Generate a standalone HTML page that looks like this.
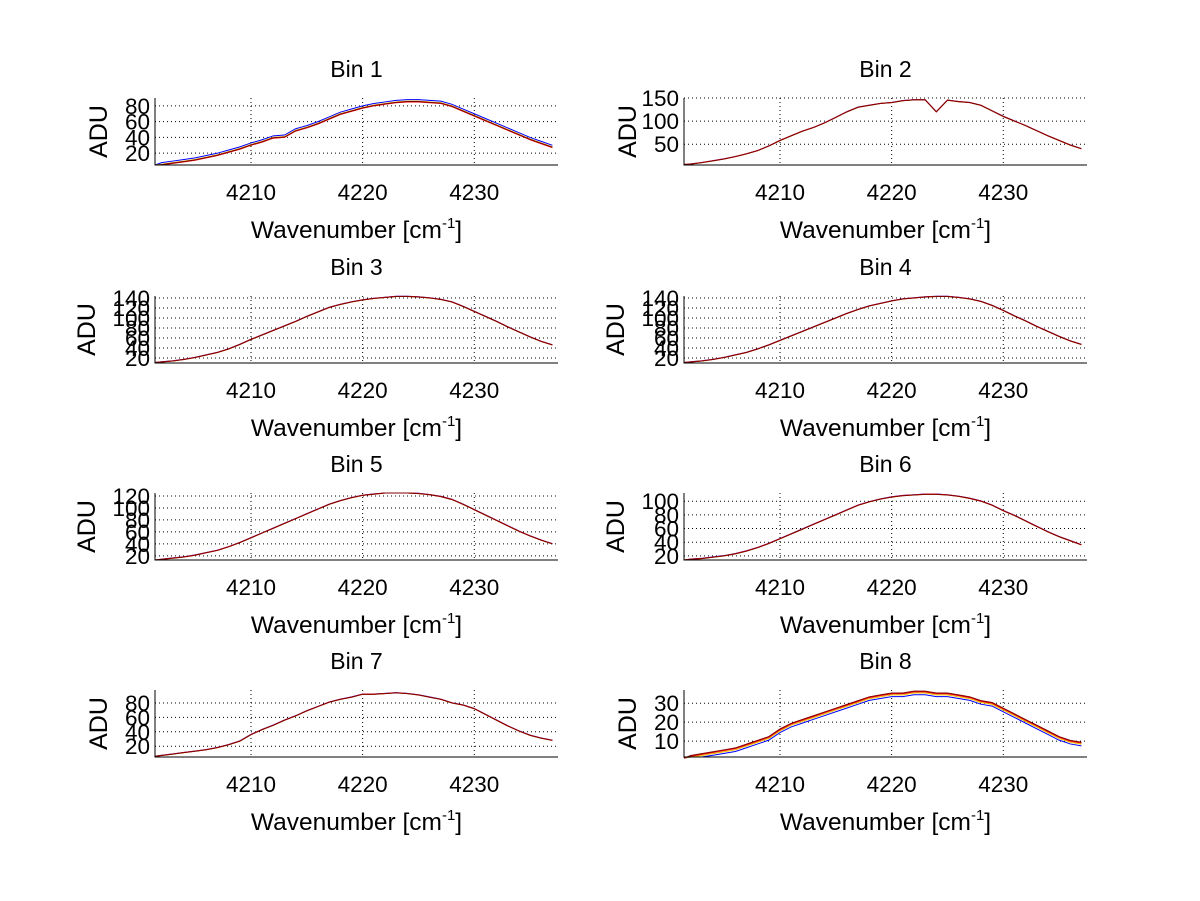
<!DOCTYPE html>
<html><head><meta charset="utf-8">
<style>
html,body{margin:0;padding:0;background:#fff;}
svg{display:block;font-family:"Liberation Sans",sans-serif;}
</style></head>
<body>
<svg id="fig" width="1200" height="901" viewBox="0 0 1200 901" xmlns="http://www.w3.org/2000/svg">
<rect width="1200" height="901" fill="#fff"/>
</svg>
<script>
const wavenumbers = [4202,4203,4204,4205,4206,4207,4208,4209,4210,4211,4212,4213,4214,4215,4216,4217,4218,4219,4220,4221,4222,4223,4224,4225,4226,4227,4228,4229,4230,4231,4232,4233,4234,4235,4236,4237];
const bin1 = [6,8,10,12,15,18,22,26,31,35,40,41,49,53,58,64,70,74,78,81,83,85,86,86,85,84,80,74,68,62,56,50,44,38,33,28];
const bin2 = [7,10,14,18,23,29,36,46,58,68,78,86,96,108,120,130,134,138,140,144,146,146,120,145,142,140,134,122,110,100,90,79,68,58,48,40];
const bin3 = [12,14,17,21,26,31,38,47,57,66,75,84,93,103,112,121,127,132,136,139,141,143,143,142,140,137,132,123,113,103,93,82,72,62,53,46];
const bin4 = [12,14,17,21,26,31,38,46,55,64,73,82,91,100,109,117,124,129,134,138,140,142,143,143,141,138,133,125,115,104,94,83,73,63,54,47];
const bin5 = [14,16,18,21,25,29,35,42,50,58,66,74,82,90,98,106,112,117,121,123,125,126,125,124,122,119,114,106,97,88,79,70,61,53,46,40];
const bin6 = [15,16,18,20,23,27,32,38,45,52,59,66,73,80,87,94,99,103,106,108,109,110,110,109,107,104,100,94,86,79,71,63,55,48,42,36];
const bin7 = [7,9,11,13,15,18,22,27,36,43,49,56,62,69,75,81,85,88,92,92,93,94,93,91,88,85,80,77,72,64,56,48,41,35,31,28];
const bin8 = [2,3,4,5,6,8,10,12,16,19,21,23,25,27,29,31,33,34,35,35,36,36,35,35,34,33,31,30,27,24,21,18,15,12,10,9];
const binSeries = [bin1,bin2,bin3,bin4,bin5,bin6,bin7,bin8];
const yRanges = [[5,90],[5,150],[10,144],[10,144],[13,125],[14,112],[5,98],[1.6,37]];
const yTicks = [[20,40,60,80],[50,100,150],[20,40,60,80,100,120,140],[20,40,60,80,100,120,140],[20,40,60,80,100,120],[20,40,60,80,100],[20,40,60,80],[10,20,30]];
const xTicks = [4210,4220,4230];
const seriesColors = ['#0000ff','#e8c000','#ff0000','#800000'];
const seriesOffsets = [[2,0,-1,-0.5],[0.5,0,0.3,0],[0.5,0,0.3,0],[0.5,0,0.3,0],[0.5,0,0.3,0],[0.5,0,0.3,0],[0.4,0,0.2,0],[-1.5,-0.6,0,0.4]];
const xDomain = [4201.4,4237.5];

const NS='http://www.w3.org/2000/svg';
const svg=document.getElementById('fig');
function mk(tag,attrs,parent){const e=document.createElementNS(NS,tag);for(const k in attrs)e.setAttribute(k,attrs[k]);(parent||svg).appendChild(e);return e;}
const cols=[155,684], tops=[98,296,493,690], W=403, H=67;
binSeries.forEach((data,i)=>{
  const L=cols[i%2], T=tops[Math.floor(i/2)];
  const g=mk('g',{});
  
  
  const [y0,y1]=yRanges[i];
  const sx=v=>L+(v-xDomain[0])/(xDomain[1]-xDomain[0])*W;
  const sy=v=>T+H-(v-y0)/(y1-y0)*H;
  xTicks.forEach(t=>{const l=mk('line',{x1:sx(t),x2:sx(t),y1:T,y2:T+H,stroke:'#000','stroke-width':1,'stroke-dasharray':'1,3'},g);
    
    const tx=mk('text',{x:sx(t),y:T+H+35,'font-size':22.5,'text-anchor':'middle'},g);tx.textContent=t;
    });
  yTicks[i].forEach(t=>{const l=mk('line',{x1:L,x2:L+W,y1:sy(t),y2:sy(t),stroke:'#000','stroke-width':1,'stroke-dasharray':'1,3'},g);
    
    const tx=mk('text',{x:L-5,y:sy(t)+8,'font-size':22.5,'text-anchor':'end'},g);tx.textContent=t;
    });
  seriesColors.forEach((c,s)=>{
    const pts=data.map((v,k)=>[sx(wavenumbers[k]),Math.min(T+H,Math.max(T,sy(v+seriesOffsets[i][s])))]);
    pts.unshift([L,sy(data[0]-1)]);
    const p=mk('polyline',{points:pts.map(q=>q.join(',')).join(' '),fill:'none',stroke:c,'stroke-width':1},g);
    
    
  });
  const ax=mk('path',{d:`M${L},${T} V${T+H} H${L+W}`,fill:'none',stroke:'#000','stroke-width':1},g);
  
  const ti=mk('text',{x:L+W/2,y:T-21,'font-size':23,'text-anchor':'middle'},g);ti.textContent='Bin '+(i+1);
  
  const xl=mk('text',{x:L+W/2,y:T+H+73,'font-size':24.5,'text-anchor':'middle'},g);
  xl.innerHTML='Wavenumber [cm<tspan dy="-10" font-size="15">-1</tspan><tspan dy="10">]</tspan>';
  
  const lx=(i%2==0)?((i==0||i==6)?107:95):((i==1||i==7)?636:624), cy=T+H/2;
  const yl=mk('text',{x:lx,y:cy,'font-size':25,'text-anchor':'middle',transform:`rotate(-90 ${lx} ${cy})`},g);
  yl.textContent='ADU';
  
});
</script>
</body></html>
